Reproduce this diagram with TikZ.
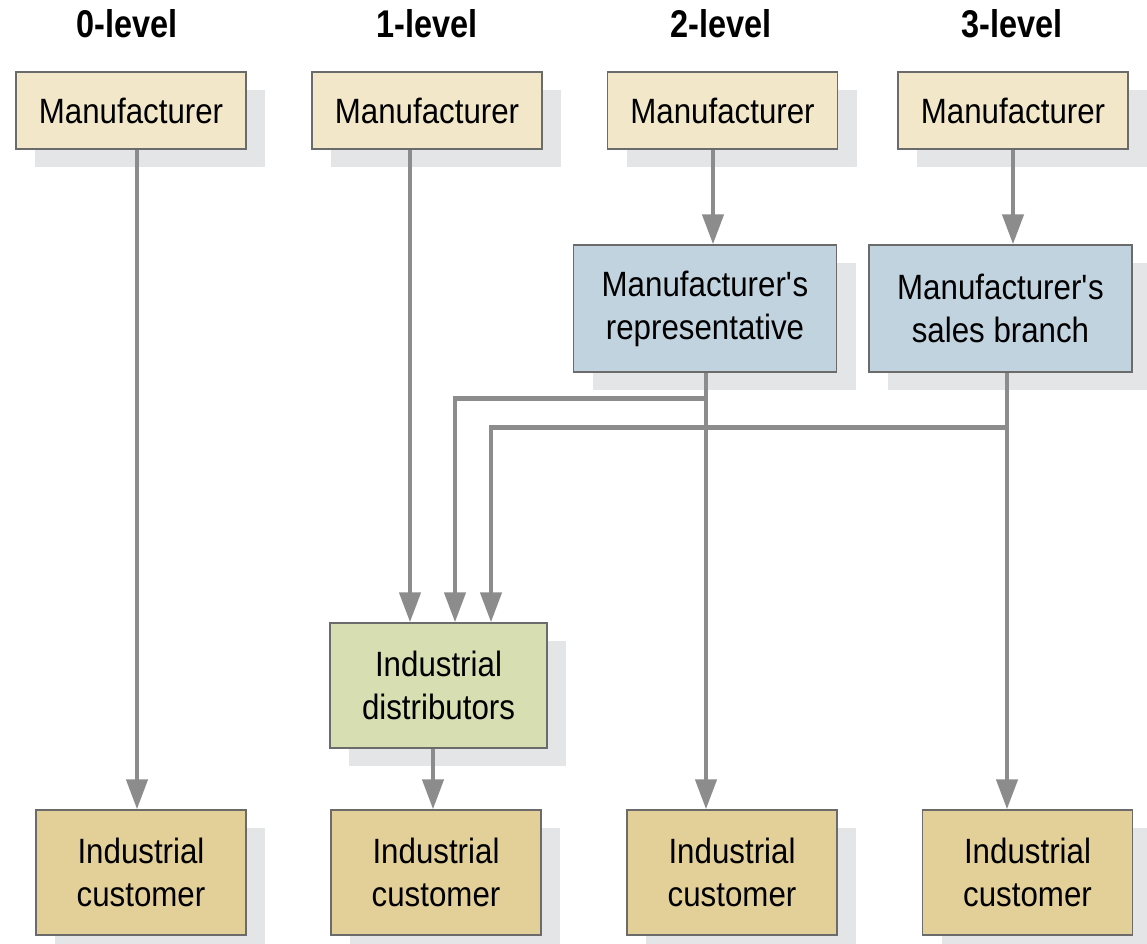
\documentclass[tikz,border=0pt]{standalone}
\usepackage{fontspec}
\setmainfont{Liberation Sans}[FakeStretch=0.89]
\newfontfamily\headfont{Liberation Sans}[FakeStretch=0.84]
\usetikzlibrary{arrows.meta, positioning, calc, shadows}

\definecolor{mfrbeige}{HTML}{F2E7C9}
\definecolor{repblue}{HTML}{C2D3E0}
\definecolor{distgreen}{HTML}{D6DEB2}
\definecolor{custtan}{HTML}{E3CF98}
\definecolor{linegray}{HTML}{8C8C8C}
\definecolor{edgegray}{HTML}{6B6B6B}
\definecolor{shadowgray}{HTML}{E4E5E6}

\begin{document}
\begin{tikzpicture}[
            box/.style={draw=edgegray, line width=0.8pt, align=center, inner sep=0pt,
                font=\fontsize{20}{24.4}\selectfont,
                drop shadow={shadow xshift=0.38cm, shadow yshift=-0.36cm, fill=shadowgray, opacity=1}},
            mfr/.style={box, fill=mfrbeige, minimum width=4.6cm, minimum height=1.54cm},
            agent/.style={box, fill=repblue, minimum width=5.26cm, minimum height=2.54cm},
            dist/.style={box, fill=distgreen, minimum width=4.34cm, minimum height=2.5cm},
            cust/.style={box, fill=custtan, minimum width=4.2cm, minimum height=2.5cm},
            level/.style={font=\headfont\bfseries\fontsize{22}{26}\selectfont},
            arrow/.style={-{Triangle[length=0.6cm, width=0.42cm]}, line width=0.09cm, draw=linegray}
        ]
        \useasboundingbox (0,0) rectangle (22.94,-18.88);

        % --- channel levels ---
        \node[level] (L0) at (2.54, -0.48) {0-level};
        \node[level] (L1) at (8.54, -0.48) {1-level};
        \node[level] (L2) at (14.42, -0.48) {2-level};
        \node[level] (L3) at (20.24, -0.48) {3-level};

        % --- manufacturers ---
        \node[mfr] (M0) at (2.62, -2.21) {Manufacturer};
        \node[mfr] (M1) at (8.54, -2.21) {Manufacturer};
        \node[mfr] (M2) at (14.45, -2.21) {Manufacturer};
        \node[mfr] (M3) at (20.26, -2.21) {Manufacturer};

        % --- intermediaries ---
        \node[agent] (Rep) at (14.10, -6.17) {Manufacturer\textquotesingle s\\representative};
        \node[agent] (Branch) at (20.01, -6.17) {Manufacturer\textquotesingle s\\sales branch};
        \node[dist] (Dist) at (8.77, -13.71) {Industrial\\distributors};

        % --- customers ---
        \node[cust] (C0) at (2.82, -17.45) {Industrial\\customer};
        \node[cust] (C1) at (8.72, -17.45) {Industrial\\customer};
        \node[cust] (C2) at (14.64, -17.45) {Industrial\\customer};
        \node[cust] (C3) at (20.55, -17.45) {Industrial\\customer};

        % --- flows ---
        \draw[arrow] ([xshift=1.2mm]M0.south) -- ([xshift=1.2mm]M0.south |- C0.north);
        \draw[arrow] ([xshift=-3.4mm]M1.south) -- ([xshift=-3.4mm]M1.south |- Dist.north);
        \draw[arrow] ([xshift=-1.9mm]M2.south) -- ([xshift=-1.9mm]M2.south |- Rep.north);
        \draw[arrow] (M3.south) -- (M3.south |- Branch.north);
        \draw[arrow] ([xshift=0.2mm]Rep.south) -- ([xshift=0.2mm]Rep.south |- C2.north);
        \draw[arrow] ([xshift=0.2mm]Rep.south) -- ++(0,-0.52) -| ([xshift=3.3mm]Dist.north);
        \draw[arrow] ([xshift=1.3mm]Branch.south) -- ([xshift=1.3mm]Branch.south |- C3.north);
        \draw[arrow] ([xshift=1.3mm]Branch.south) -- ++(0,-1.10) -| ([xshift=10.5mm]Dist.north);
        \draw[arrow] ([xshift=-1.1mm]Dist.south) -- ([xshift=-1.1mm]Dist.south |- C1.north);
        \end{tikzpicture}
\end{document}
